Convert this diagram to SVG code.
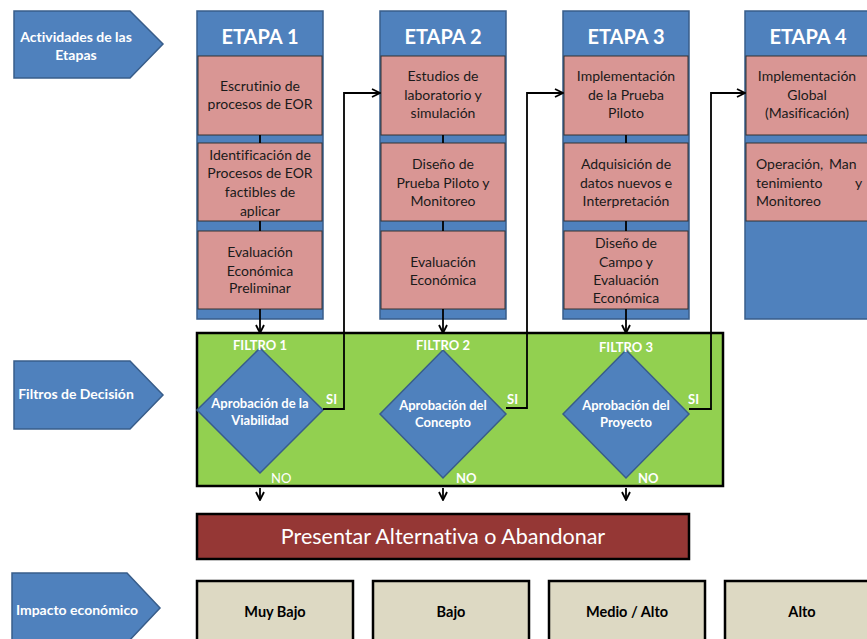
<svg xmlns="http://www.w3.org/2000/svg" width="867" height="639" viewBox="0 0 867 639">
  <style>
    text { font-family: Lato, "Open Sans", "Liberation Sans", sans-serif; font-variant-ligatures: none; }
    .lbl { fill: #fff; font-weight: bold; font-size: 14px; text-anchor: middle; }
    .col { fill: #4F81BD; stroke: #385D8A; stroke-width: 1.5; }
    .head { fill: #fff; font-weight: bold; font-size: 20px; text-anchor: middle; }
    .step { fill: #D99694; stroke: #333; stroke-width: 1; }
    .stxt { fill: #1a1a1a; font-size: 14px; text-anchor: middle; }
    .sl { fill: #1a1a1a; font-size: 14px; text-anchor: start; }
    .dia { fill: #4F81BD; stroke: #385D8A; stroke-width: 1.5; }
    .dtxt { fill: #fff; font-weight: bold; font-size: 13px; text-anchor: middle; }
    .wb { fill: #fff; font-weight: bold; font-size: 13px; }
    .imp { fill: #DDD9C3; stroke: #000; stroke-width: 2.5; }
    .itxt { fill: #000; font-weight: bold; font-size: 14.5px; text-anchor: middle; }
    .wire { fill: none; stroke: #000; stroke-width: 1.8; }
  </style>
  <defs>
    <marker id="arr" viewBox="0 0 10 10" refX="9" refY="5" markerWidth="10" markerHeight="10" markerUnits="userSpaceOnUse" orient="auto">
      <path d="M1,1 L9,5 L1,9" fill="none" stroke="#000" stroke-width="1.8"/>
    </marker>
  </defs>
  <rect width="867" height="639" fill="#fff"/>

  <!-- row labels -->
  <g id="lbl-actividades">
    <path d="M14,11 H130 L163,44 L130,78 H14 Z" class="col"/>
    <text class="lbl" x="76" y="42">Actividades de las</text>
    <text class="lbl" x="76" y="60">Etapas</text>
  </g>
  <g id="lbl-filtros">
    <path d="M14,361 H130 L163,395 L130,429 H14 Z" class="col"/>
    <text class="lbl" x="76" y="399">Filtros de Decisión</text>
  </g>
  <g id="lbl-impacto">
    <path d="M12,573 H127 L160,608 L127,643 H12 Z" class="col"/>
    <text class="lbl" x="77" y="615">Impacto económico</text>
  </g>

  <!-- stage columns -->
  <g id="etapa1">
    <rect x="197" y="11" width="126" height="308" class="col"/>
    <text class="head" x="260" y="44">ETAPA 1</text>
    <rect x="198" y="56" width="124" height="79" class="step"/>
    <text class="stxt" x="260" y="91">Escrutinio de</text>
    <text class="stxt" x="260" y="109">procesos de EOR</text>
    <rect x="198" y="143" width="124" height="78" class="step"/>
    <text class="stxt" x="260" y="160">Identificación de</text>
    <text class="stxt" x="260" y="178">Procesos de EOR</text>
    <text class="stxt" x="260" y="197">factibles de</text>
    <text class="stxt" x="260" y="216">aplicar</text>
    <rect x="198" y="231" width="124" height="78" class="step"/>
    <text class="stxt" x="260" y="257">Evaluación</text>
    <text class="stxt" x="260" y="276">Económica</text>
    <text class="stxt" x="260" y="293">Preliminar</text>
  </g>
  <g id="etapa2">
    <rect x="380" y="11" width="126" height="308" class="col"/>
    <text class="head" x="443" y="44">ETAPA 2</text>
    <rect x="381" y="56" width="124" height="79" class="step"/>
    <text class="stxt" x="443" y="81">Estudios de</text>
    <text class="stxt" x="443" y="100">laboratorio y</text>
    <text class="stxt" x="443" y="118">simulación</text>
    <rect x="381" y="143" width="124" height="78" class="step"/>
    <text class="stxt" x="443" y="169">Diseño de</text>
    <text class="stxt" x="443" y="188">Prueba Piloto y</text>
    <text class="stxt" x="443" y="206">Monitoreo</text>
    <rect x="381" y="231" width="124" height="78" class="step"/>
    <text class="stxt" x="443" y="267">Evaluación</text>
    <text class="stxt" x="443" y="285">Económica</text>
  </g>
  <g id="etapa3">
    <rect x="563" y="11" width="126" height="308" class="col"/>
    <text class="head" x="626" y="44">ETAPA 3</text>
    <rect x="564" y="56" width="124" height="79" class="step"/>
    <text class="stxt" x="626" y="81">Implementación</text>
    <text class="stxt" x="626" y="100">de la Prueba</text>
    <text class="stxt" x="626" y="118">Piloto</text>
    <rect x="564" y="143" width="124" height="78" class="step"/>
    <text class="stxt" x="626" y="169">Adquisición de</text>
    <text class="stxt" x="626" y="188">datos nuevos e</text>
    <text class="stxt" x="626" y="206">Interpretación</text>
    <rect x="564" y="231" width="124" height="78" class="step"/>
    <text class="stxt" x="626" y="248">Diseño de</text>
    <text class="stxt" x="626" y="267">Campo y</text>
    <text class="stxt" x="626" y="285">Evaluación</text>
    <text class="stxt" x="626" y="303">Económica</text>
  </g>
  <g id="etapa4">
    <rect x="745" y="11" width="130" height="308" class="col"/>
    <text class="head" x="808" y="44">ETAPA 4</text>
    <rect x="746" y="56" width="128" height="79" class="step"/>
    <text class="stxt" x="807" y="81">Implementación</text>
    <text class="stxt" x="807" y="100">Global</text>
    <text class="stxt" x="807" y="118">(Masificación)</text>
    <rect x="746" y="143" width="128" height="78" class="step"/>
    <text class="sl" x="756" y="169">Operación,</text>
    <text class="sl" x="829" y="169">Man</text>
    <text class="sl" x="756" y="188">tenimiento</text>
    <text class="sl" x="855" y="188">y</text>
    <text class="sl" x="756" y="206">Monitoreo</text>
  </g>

  <!-- decision filters -->
  <g id="filtros">
    <rect x="197" y="333" width="526" height="153" fill="#92D050" stroke="#000" stroke-width="2.5"/>
  </g>
  <g id="filtro1">
    <path d="M260,348 L323,410 L260,473 L197,410 Z" class="dia"/>
    <text class="wb" x="260" y="350" text-anchor="middle">FILTRO 1</text>
    <text class="dtxt" x="260" y="408">Aprobación de la</text>
    <text class="dtxt" x="260" y="425">Viabilidad</text>
  </g>
  <g id="filtro2">
    <path d="M443,350 L506,414 L443,478 L380,414 Z" class="dia"/>
    <text class="wb" x="443" y="350" text-anchor="middle">FILTRO 2</text>
    <text class="dtxt" x="443" y="410">Aprobación del</text>
    <text class="dtxt" x="443" y="427">Concepto</text>
  </g>
  <g id="filtro3">
    <path d="M626,350 L689,414 L626,478 L563,414 Z" class="dia"/>
    <text class="wb" x="626" y="352" text-anchor="middle">FILTRO 3</text>
    <text class="dtxt" x="626" y="410">Aprobación del</text>
    <text class="dtxt" x="626" y="427">Proyecto</text>
  </g>

  <!-- outcome labels -->
  <g id="etiquetas">
    <text class="wb" x="326" y="404">SI</text>
    <text class="wb" x="507" y="404">SI</text>
    <text class="wb" x="688" y="404">SI</text>
    <text x="271" y="483" fill="#fff" font-size="13px">NO</text>
    <text class="wb" x="456" y="483">NO</text>
    <text class="wb" x="638" y="483">NO</text>
  </g>

  <!-- connectors -->
  <g id="conectores">
    <path class="wire" d="M260,135 V143 M260,221 V231"/>
    <path class="wire" d="M443,135 V143 M443,221 V231"/>
    <path class="wire" d="M626,135 V143 M626,221 V231"/>
    <path class="wire" d="M260,309 V333" marker-end="url(#arr)"/>
    <path class="wire" d="M443,309 V333" marker-end="url(#arr)"/>
    <path class="wire" d="M626,309 V333" marker-end="url(#arr)"/>
    <path class="wire" d="M323,409 H344 V93 H380" marker-end="url(#arr)"/>
    <path class="wire" d="M506,408 H527 V93 H563" marker-end="url(#arr)"/>
    <path class="wire" d="M689,409 H711 V93 H745" marker-end="url(#arr)"/>
    <path class="wire" d="M260,488 V500" marker-end="url(#arr)"/>
    <path class="wire" d="M443,488 V500" marker-end="url(#arr)"/>
    <path class="wire" d="M626,488 V500" marker-end="url(#arr)"/>
  </g>

  <g id="presentar">
    <rect x="197" y="514" width="492" height="45" fill="#953735" stroke="#000" stroke-width="2.5"/>
    <text x="443" y="544" fill="#fff" font-size="21.5px" text-anchor="middle">Presentar Alternativa o Abandonar</text>
  </g>

  <!-- economic impact -->
  <g id="muy-bajo">
    <rect x="197" y="581" width="156" height="70" class="imp"/>
    <text class="itxt" x="275" y="617">Muy Bajo</text>
  </g>
  <g id="bajo">
    <rect x="373" y="581" width="156" height="70" class="imp"/>
    <text class="itxt" x="451" y="617">Bajo</text>
  </g>
  <g id="medio-alto">
    <rect x="549" y="581" width="156" height="70" class="imp"/>
    <text class="itxt" x="627" y="617">Medio / Alto</text>
  </g>
  <g id="alto">
    <rect x="725" y="581" width="156" height="70" class="imp"/>
    <text class="itxt" x="802" y="617">Alto</text>
  </g>
</svg>
